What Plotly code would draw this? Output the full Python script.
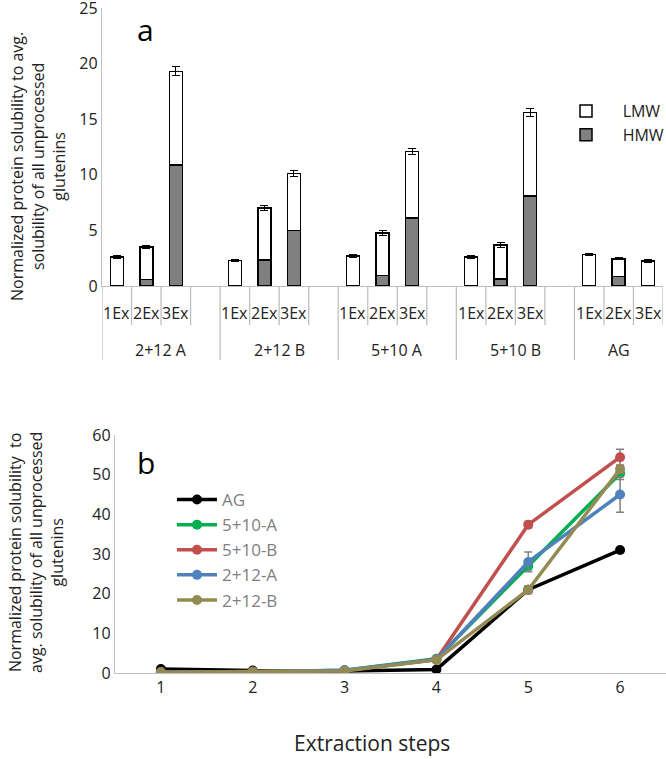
import plotly.graph_objects as go

# ---- panel a data ----
groups = ["2+12 A", "2+12 B", "5+10 A", "5+10 B", "AG"]
ex_steps = ["1Ex", "2Ex", "3Ex"]
hmw = [[0.05, 0.6, 10.9], [0.05, 2.35, 5.0], [0.05, 0.93, 6.1], [0.05, 0.63, 8.1], [0.05, 0.85, 0.05]]
lmw = [[2.55, 2.9, 8.4], [2.25, 4.65, 5.1], [2.65, 3.82, 6.0], [2.55, 3.07, 7.5], [2.8, 1.6, 2.2]]
err_total = [[0.1, 0.15, 0.4], [0.1, 0.2, 0.25], [0.1, 0.2, 0.3], [0.1, 0.2, 0.35], [0.1, 0.1, 0.1]]

# ---- panel b data ----
steps = [1, 2, 3, 4, 5, 6]
series_names = ["AG", "5+10-A", "5+10-B", "2+12-A", "2+12-B"]
series_vals = [
    [1.0, 0.6, 0.5, 0.9, 21.0, 31.0],
    [0.2, 0.3, 0.7, 3.6, 27.0, 50.3],
    [0.2, 0.3, 0.6, 3.4, 37.4, 54.4],
    [0.2, 0.3, 0.7, 3.4, 28.0, 45.0],
    [0.2, 0.3, 0.5, 3.3, 21.0, 51.4],
]
series_err = [
    [0, 0, 0, 0, 0.5, 0.5],
    [0, 0, 0, 0.3, 1.0, 1.5],
    [0, 0, 0, 0.3, 0.8, 2.0],
    [0, 0, 0, 0.3, 2.5, 4.5],
    [0, 0, 0, 0.3, 1.0, 1.0],
]
series_colors = ["#000000", "#00b050", "#c0504d", "#4f81bd", "#948a54"]

W, H = 666, 759
FONT = "Open Sans"


def py(p):
    # pixel row -> paper y
    return (H - p) / H


# slot positions: 4 slots per group (last one empty)
xs, hm, lm, er = [], [], [], []
for g in range(len(groups)):
    for s in range(len(ex_steps)):
        xs.append(g * 4 + s + 0.5)
        hm.append(hmw[g][s])
        lm.append(lmw[g][s])
        er.append(err_total[g][s])

pad = "\u00a0" * 4
fig = go.Figure()
fig.add_trace(go.Bar(x=xs, y=hm, name=pad + "HMW", width=0.44,
                     marker=dict(color="#808080", line=dict(color="black", width=1.5)),
                     xaxis="x", yaxis="y", legend="legend"))
fig.add_trace(go.Bar(x=xs, y=lm, name=pad + "LMW", width=0.44,
                     marker=dict(color="white", line=dict(color="black", width=1.5)),
                     error_y=dict(type="data", array=er, color="black", thickness=1, width=4),
                     xaxis="x", yaxis="y", legend="legend"))

for name, vals, err, col in zip(series_names, series_vals, series_err, series_colors):
    fig.add_trace(go.Scatter(x=steps, y=vals, name=name, mode="lines+markers",
                             line=dict(color=col, width=3.5),
                             marker=dict(color=col, size=10),
                             error_y=dict(type="data", array=err, color="#808080", thickness=1.5, width=4),
                             xaxis="x2", yaxis="y2", legend="legend2"))

shapes = []
n_slots = len(groups) * 4 - 1
for k in range(n_slots + 1):
    bottom = 360 if (k % 4 == 0) else 325
    shapes.append(dict(type="line", xref="x", yref="paper", x0=k, x1=k,
                       y0=py(286), y1=py(bottom), line=dict(color="#bfbfbf", width=1.3)))

annotations = []
for g, gname in enumerate(groups):
    nslot = 3 if g == len(groups) - 1 else 4
    annotations.append(dict(x=g * 4 + nslot / 2, y=py(350), xref="x", yref="paper",
                            text=gname, showarrow=False, font=dict(size=16, color="#222")))
    for s, sname in enumerate(ex_steps):
        annotations.append(dict(x=g * 4 + s + 0.5, y=py(313), xref="x", yref="paper",
                                text=sname, showarrow=False, font=dict(size=16, color="#222")))

annotations += [
    dict(x=145 / W, y=py(30), xref="paper", yref="paper", text="a", showarrow=False,
         xanchor="center", yanchor="middle", font=dict(size=30, color="black")),
    dict(x=146 / W, y=py(462), xref="paper", yref="paper", text="b", showarrow=False,
         xanchor="center", yanchor="middle", font=dict(size=30, color="black")),
    dict(x=38 / W, y=py(167), xref="paper", yref="paper", textangle=-90, showarrow=False,
         xanchor="center", yanchor="middle",
         text="Normalized protein solubility to avg.<br>solubility of all unprocessed<br>glutenins",
         font=dict(size=16, color="#222")),
    dict(x=36 / W, y=py(553), xref="paper", yref="paper", textangle=-90, showarrow=False,
         xanchor="center", yanchor="middle",
         text="Normalized protein solubility  to<br>avg. solubility of all unprocessed<br>glutenins",
         font=dict(size=16, color="#222")),
    dict(x=372 / W, y=py(743), xref="paper", yref="paper", text="Extraction steps",
         showarrow=False, xanchor="center", yanchor="middle", font=dict(size=21, color="#222")),
]

fig.update_layout(
    width=W, height=H,
    margin=dict(l=0, r=0, t=0, b=0, autoexpand=False),
    paper_bgcolor="white", plot_bgcolor="white",
    font=dict(family=FONT, size=15, color="#222"),
    barmode="stack",
    xaxis=dict(domain=[102 / W, 663 / W], range=[0, n_slots], showticklabels=False,
               showgrid=False, zeroline=False, showline=True, linecolor="#bfbfbf",
               linewidth=1.3, ticks="", anchor="y", automargin=False),
    yaxis=dict(domain=[py(286), py(8)], range=[0, 25], dtick=5, showgrid=False,
               zeroline=False, showline=True, linecolor="#bfbfbf", linewidth=1.3,
               ticks="", tickfont=dict(size=16), anchor="x", automargin=False,
               ticklabeloverflow="allow"),
    xaxis2=dict(domain=[115 / W, 1.0], range=[0.5, 6.5], tickvals=steps, showgrid=False,
                zeroline=False, showline=True, linecolor="#bfbfbf", linewidth=1.3,
                ticks="", tickfont=dict(size=16), anchor="y2", automargin=False),
    yaxis2=dict(domain=[py(673), py(435)], range=[0, 60], dtick=10, showgrid=False,
                zeroline=False, showline=True, linecolor="#bfbfbf", linewidth=1.3,
                ticks="", tickfont=dict(size=16), anchor="x2", automargin=False),
    legend=dict(x=566 / W, y=py(94), xanchor="left", yanchor="top", traceorder="reversed",
                font=dict(size=16), bgcolor="rgba(0,0,0,0)", tracegroupgap=0),
    legend2=dict(x=172 / W, y=py(482), xanchor="left", yanchor="top",
                 font=dict(size=17, color="#7f7f7f"), bgcolor="rgba(0,0,0,0)",
                 itemwidth=40, tracegroupgap=0),
    shapes=shapes,
    annotations=annotations,
)

# drop the page's default body margin so the figure sits at the window's corner
fig.write_html("out.html", config={"displayModeBar": False},
               post_script="document.body.style.margin='0px';")
